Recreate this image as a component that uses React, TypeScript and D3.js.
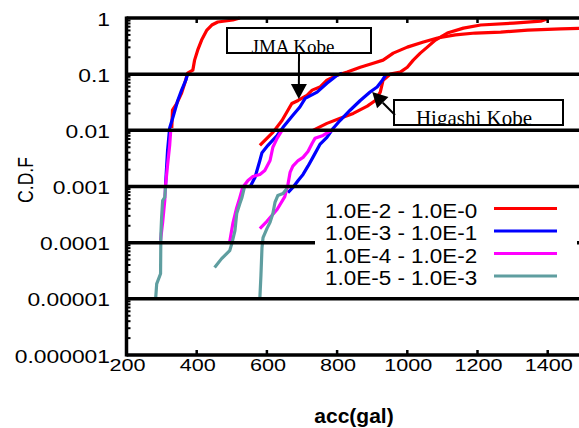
import { useRef, useEffect } from 'react';
import * as d3 from 'd3';

// acc (gal) / C.D.F, three sites, four probability bands each
const leftRedAcc = [329, 331, 343, 357, 366, 374, 389, 394, 403, 414, 429, 443, 460, 503, 523];
const leftRedCdf = [0.011, 0.023, 0.03, 0.046, 0.069, 0.104, 0.118, 0.178, 0.27, 0.405, 0.61, 0.75, 0.85, 0.92, 1.0];
const leftBlueAcc = [311, 317, 323, 334, 346, 357, 369, 374];
const leftBlueCdf = [0.001, 0.0044, 0.011, 0.0185, 0.034, 0.052, 0.078, 0.1];
const leftMagAcc = [297, 303, 309, 311, 317, 323, 326];
const leftMagCdf = [1.1e-4, 2.3e-4, 5.6e-4, 1e-3, 2.4e-3, 5.4e-3, 0.01];
const leftTealAcc = [283, 286, 297, 298, 300, 303, 309, 311];
const leftTealCdf = [1.0e-5, 1.85e-5, 2.8e-5, 1.45e-4, 2.8e-4, 5.6e-4, 6.4e-4, 9.6e-4];

const jmaRedAcc = [580, 617, 643, 671, 689, 714, 729, 751, 771, 800, 829, 866, 903, 931, 960, 1000, 1046, 1086, 1137, 1194, 1266, 1343, 1437, 1509];
const jmaRedCdf = [0.0054, 0.0092, 0.015, 0.03, 0.034, 0.042, 0.052, 0.059, 0.078, 0.096, 0.109, 0.133, 0.157, 0.178, 0.237, 0.303, 0.373, 0.44, 0.5, 0.54, 0.56, 0.61, 0.64, 0.66];
const jmaBlueAcc = [551, 566, 580, 586, 603, 629, 646, 674, 694, 709, 743, 771, 800, 814];
const jmaBlueCdf = [9.6e-4, 1.45e-3, 2.9e-3, 4.0e-3, 5.4e-3, 8.1e-3, 0.0113, 0.0185, 0.026, 0.037, 0.048, 0.069, 0.096, 0.104];
const jmaMagAcc = [494, 503, 514, 523, 531, 546, 560, 580, 594, 609, 617, 629, 643];
const jmaMagCdf = [1.04e-4, 2.2e-4, 4.2e-4, 6.4e-4, 9.6e-4, 1.28e-3, 1.51e-3, 1.64e-3, 1.93e-3, 2.9e-3, 5.0e-3, 7.2e-3, 0.01];
const jmaTealAcc = [451, 471, 494, 500, 509, 514, 523, 529, 537];
const jmaTealCdf = [3.6e-5, 5.2e-5, 7.2e-5, 9.6e-5, 1.64e-4, 3.3e-4, 5.0e-4, 6.4e-4, 1.04e-3];

const higRedAcc = [731, 771, 809, 846, 886, 909, 923, 931, 951, 980, 1000, 1017, 1037, 1057, 1080, 1114, 1160, 1209, 1303, 1380, 1400];
const higRedCdf = [0.01, 0.0133, 0.0164, 0.02, 0.027, 0.034, 0.048, 0.078, 0.1, 0.109, 0.133, 0.178, 0.237, 0.303, 0.405, 0.54, 0.66, 0.75, 0.81, 0.88, 0.97];
const higBlueAcc = [660, 674, 689, 703, 717, 731, 751, 771, 789, 809, 837, 866, 894, 914, 929, 940];
const higBlueCdf = [7.8e-4, 9.6e-4, 1.28e-3, 1.64e-3, 2.3e-3, 3.3e-3, 5.6e-3, 7.5e-3, 0.0109, 0.0151, 0.0228, 0.034, 0.048, 0.059, 0.078, 0.1];
const higMagAcc = [580, 600, 629, 651, 660, 666, 674, 689, 703, 717, 729, 737, 760, 774, 786];
const higMagCdf = [1.78e-4, 2.4e-4, 3.9e-4, 6.6e-4, 1.09e-3, 1.78e-3, 2.3e-3, 2.9e-3, 3.3e-3, 4.2e-3, 5.9e-3, 7.2e-3, 8.1e-3, 9.2e-3, 0.01];
const higTealAcc = [580, 583, 586, 589, 600, 609, 617, 623, 631, 646, 657];
const higTealCdf = [1.04e-5, 2.6e-5, 8.1e-5, 1.23e-4, 1.78e-4, 2.3e-4, 3.3e-4, 5.2e-4, 6.9e-4, 7.5e-4, 9.2e-4];

const legendLabels = ['1.0E-2 - 1.0E-0', '1.0E-3 - 1.0E-1', '1.0E-4 - 1.0E-2', '1.0E-5 - 1.0E-3'];
const colors = ['#ff0000', '#0000ff', '#ff00ff', '#5f9ea0'];

const yTicks = [1, 0.1, 0.01, 0.001, 0.0001, 0.00001, 0.000001];
const yTickLabels = ['1', '0.1', '0.01', '0.001', '0.0001', '0.00001', '0.000001'];
const xTicks = [200, 400, 600, 800, 1000, 1200, 1400];

const W = 579;
const H = 428;
const sans = 'Liberation Sans, Arial, sans-serif';
const serif = 'Liberation Serif, Times New Roman, serif';

const App = () => {
  const svgRef = useRef<SVGSVGElement>(null);

  useEffect(() => {
    const svg = d3.select(svgRef.current);
    svg.selectAll('*').remove();

    const x = d3.scaleLinear().domain([200, 1500]).range([126.5, 582.8]);
    const y = d3.scaleLog().domain([1e-6, 1]).range([355, 18]);
    const x0 = x(200);

    // curves, band by band (red under, teal on top)
    const bands = [
      [[leftRedAcc, leftRedCdf], [jmaRedAcc, jmaRedCdf], [higRedAcc, higRedCdf]],
      [[leftBlueAcc, leftBlueCdf], [jmaBlueAcc, jmaBlueCdf], [higBlueAcc, higBlueCdf]],
      [[leftMagAcc, leftMagCdf], [jmaMagAcc, jmaMagCdf], [higMagAcc, higMagCdf]],
      [[leftTealAcc, leftTealCdf], [jmaTealAcc, jmaTealCdf], [higTealAcc, higTealCdf]],
    ];

    svg.append('clipPath').attr('id', 'plotClip')
      .append('rect').attr('x', x0).attr('y', 16).attr('width', W).attr('height', 341);

    const line = d3.line<[number, number]>()
      .x((d) => x(d[0]))
      .y((d) => y(d[1]));

    const curves = svg.append('g').attr('clip-path', 'url(#plotClip)');
    bands.forEach((band, bi) => {
      band.forEach(([acc, cdf]) => {
        const pts = acc.map((a, i) => [a, cdf[i]] as [number, number]);
        curves.append('path')
          .attr('d', line(pts))
          .attr('fill', 'none')
          .attr('stroke', colors[bi])
          .attr('stroke-width', 3.2)
          .attr('stroke-linejoin', 'round');
      });
    });

    // gridlines on every decade
    svg.append('g').selectAll('line').data(yTicks).join('line')
      .attr('x1', x0).attr('x2', W + 5)
      .attr('y1', (d) => y(d)).attr('y2', (d) => y(d))
      .attr('stroke', '#000').attr('stroke-width', 3.5);

    // left axis + minor log ticks
    svg.append('line')
      .attr('x1', x0).attr('x2', x0).attr('y1', 16.5).attr('y2', 356.5)
      .attr('stroke', '#000').attr('stroke-width', 3.5);
    const minor: number[] = [];
    for (let e = -6; e < 0; e++) for (let k = 2; k <= 9; k++) minor.push(k * Math.pow(10, e));
    svg.append('g').selectAll('line').data(minor).join('line')
      .attr('x1', x0).attr('x2', x0 + 4)
      .attr('y1', (d) => y(d)).attr('y2', (d) => y(d))
      .attr('stroke', '#000').attr('stroke-width', 2);

    // x ticks top and bottom
    const xt = svg.append('g');
    xTicks.slice(1).forEach((v) => {
      xt.append('line').attr('x1', x(v)).attr('x2', x(v)).attr('y1', 355).attr('y2', 350)
        .attr('stroke', '#000').attr('stroke-width', 2.5);
      xt.append('line').attr('x1', x(v)).attr('x2', x(v)).attr('y1', 18).attr('y2', 23)
        .attr('stroke', '#000').attr('stroke-width', 2.5);
    });

    // tick labels (the picture is stretched sideways)
    svg.append('g').selectAll('text').data(yTicks).join('text')
      .attr('transform', (d) => `translate(110,${y(d) + 7.5}) scale(1.27,1)`)
      .attr('text-anchor', 'end')
      .attr('font-family', sans).attr('font-size', 18)
      .text((d, i) => yTickLabels[i]);

    svg.append('g').selectAll('text').data(xTicks).join('text')
      .attr('transform', (d) => `translate(${x(d) + 1},371) scale(1.27,1)`)
      .attr('text-anchor', 'middle')
      .attr('font-family', sans).attr('font-size', 17)
      .text((d) => String(d));

    svg.append('text')
      .attr('x', 354).attr('y', 423)
      .attr('text-anchor', 'middle')
      .attr('font-family', sans).attr('font-size', 21).attr('font-weight', 'bold')
      .text('acc(gal)');

    svg.append('text')
      .attr('transform', 'translate(33,180) rotate(-90) scale(0.8,1)')
      .attr('text-anchor', 'middle')
      .attr('font-family', sans).attr('font-size', 22)
      .text('C.D.F');

    // legend
    const lg = svg.append('g');
    lg.append('rect').attr('x', 315).attr('y', 190).attr('width', 262).attr('height', 106).attr('fill', '#fff');
    legendLabels.forEach((lab, i) => {
      const by = 217.5 + i * 22.5;
      lg.append('text').attr('transform', `translate(325,${by}) scale(1.07,1)`)
        .attr('font-family', sans).attr('font-size', 21).text(lab);
      lg.append('line').attr('x1', 494).attr('x2', 557).attr('y1', by - 9).attr('y2', by - 9)
        .attr('stroke', colors[i]).attr('stroke-width', 3);
    });

    // annotations
    const annots = [
      { text: 'JMA Kobe', acc: 691, cdf: 0.036, bx: 227, by: 28, bw: 144, bh: 25, fs: 19, tx: 293, tail: [299, 53] },
      { text: 'Higashi Kobe', acc: 900, cdf: 0.048, bx: 394, by: 100, bw: 169, bh: 25, fs: 21, tx: 474, tail: [395, 115] },
    ];
    annots.forEach((a, i) => {
      const g = svg.append('g');
      g.append('clipPath').attr('id', `ann${i}`)
        .append('rect').attr('x', a.bx).attr('y', a.by).attr('width', a.bw).attr('height', a.bh);
      g.append('rect').attr('x', a.bx).attr('y', a.by).attr('width', a.bw).attr('height', a.bh)
        .attr('fill', '#fff').attr('stroke', '#000').attr('stroke-width', 2);
      g.append('text').attr('x', a.tx).attr('y', a.by + a.bh)
        .attr('clip-path', `url(#ann${i})`)
        .attr('text-anchor', 'middle')
        .attr('font-family', serif).attr('font-size', a.fs)
        .text(a.text);
      const tipX = x(a.acc);
      const tipY = y(a.cdf);
      const dx = tipX - a.tail[0];
      const dy = tipY - a.tail[1];
      const len = Math.hypot(dx, dy);
      const ux = dx / len, uy = dy / len;
      const hl = 15, hw = 8;
      const bxh = tipX - ux * hl, byh = tipY - uy * hl;
      g.append('line').attr('x1', a.tail[0]).attr('y1', a.tail[1]).attr('x2', bxh).attr('y2', byh)
        .attr('stroke', '#000').attr('stroke-width', 2);
      g.append('polygon')
        .attr('points', `${tipX},${tipY} ${bxh - uy * hw},${byh + ux * hw} ${bxh + uy * hw},${byh - ux * hw}`)
        .attr('fill', '#000');
    });
  }, []);

  return (
    <div style={{ position: 'absolute', left: 0, top: 0 }}>
      <svg ref={svgRef} width={W} height={H} style={{ display: 'block', background: '#fff' }}></svg>
    </div>
  );
};

export default App;
